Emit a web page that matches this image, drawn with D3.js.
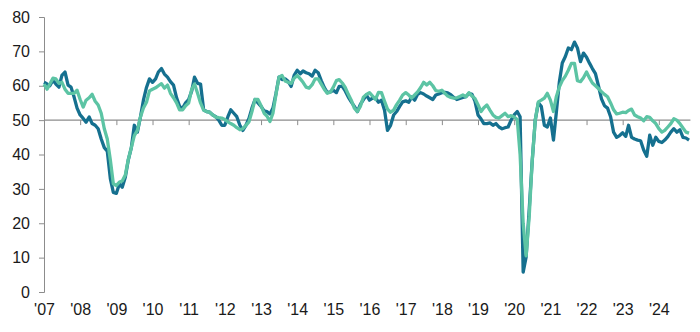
<!DOCTYPE html>
<html>
<head>
<meta charset="utf-8">
<script src="https://cdn.jsdelivr.net/npm/d3@7"></script>
<style>
  html, body { margin: 0; padding: 0; background: #fff; }
  svg { display: block; }
  text { font-family: "Liberation Sans", Arial, sans-serif; }
</style>
</head>
<body>
<div id="chart"></div>
<script>
// Monthly series starting January 2007
const startYear = 2007;
const yearLabels = ["'07","'08","'09","'10","'11","'12","'13","'14","'15","'16","'17","'18","'19","'20","'21","'22","'23","'24"];
const yTicks = [0, 10, 20, 30, 40, 50, 60, 70, 80];

const darkSeries = [
  61, 60.5, 60, 61.6, 60.5, 59.6, 63, 64, 60.2, 59.6, 56.7, 53.5,
  51.5, 50.5, 49.4, 50.9, 49, 48.5, 47.5, 44.5, 42, 41, 33, 29,
  28.7, 31.5, 30.5, 33.4, 38.4, 42, 48.5, 46.5, 50.9, 55.8, 59.5, 62,
  61, 62, 64, 65, 63.4, 62.5, 61.2, 60.2, 56.5, 54, 53.5, 55,
  56, 58.5, 62.5, 60.7, 60.5, 53, 52.5, 52.3, 51.5, 51, 50, 48.5,
  48.5, 51, 53, 52, 51, 48.5, 47, 48.5, 50.5, 53.5, 56, 55,
  54, 52.7, 52.5, 51.8, 53.5, 57.8, 62.5, 61.8, 62, 61.3, 59.8, 63,
  64.5, 63.5, 64.3, 63.8, 63.5, 62.8, 64.5, 63.8, 61.5, 59.5, 58, 58.2,
  58.7, 58, 59.8, 59.8, 58.5, 56.7, 55.3, 54, 52.5, 54.6, 56, 57.3,
  55.8, 56.4, 56.5, 55.2, 55.8, 52.9, 47, 48.5, 51.5, 52.5, 54, 55.3,
  55.6, 55.2, 56.7, 55.8, 57.5, 58, 57.6, 57, 56.5, 56, 57.3, 57.6,
  58, 58.1, 57.9, 57.4, 56.6, 56, 56.3, 56.6, 56.8, 57.8, 57.5, 55.5,
  51.5, 50.3, 49, 49, 49.2, 48.5, 49, 48, 47.5, 47.8, 48, 50,
  51.5, 52.5, 51, 5.8, 10.2, 24, 38, 50, 55, 54, 48.5, 48,
  50.6, 44.2, 52, 61, 66.6, 68.5, 71, 70.5, 72.7, 71, 67, 69.5,
  68.3, 66.5, 65, 63.5, 60, 56.2, 54.2, 53.5, 51, 46.5, 45, 45.5,
  46.3, 45.3, 48.5, 45, 44.5, 44.2, 44, 41.3, 39.5, 45.6, 42.7, 45,
  43.8, 43.5, 44.2, 45.2, 46.5, 47.5, 46.5, 47.2, 45, 44.8, 44.2
];

const lightSeries = [
  60.5, 59, 60.5, 62.2, 62, 60.7, 61, 59, 57.8, 57.8, 57.8, 58.7,
  56, 53.8, 55.8, 56.5, 57.5, 55.5, 54.4, 52, 47.5, 44.5, 38.4, 31.5,
  31, 32, 32.3, 34, 38.5, 42, 45.5, 47, 50.9, 53.5, 55.2, 58.5,
  59, 59.4, 60, 60.6, 59.3, 60.2, 57.8, 56.5, 55, 53, 53, 54.2,
  55, 59, 60.5, 57.8, 55, 52.9, 52.5, 52.3, 51.5, 50.9, 50.7, 50.6,
  50.2, 49.5, 49, 48.5, 47.8, 47.2, 47.5, 48.5, 49.5, 52.5, 56, 56,
  54.2, 52, 51.2, 49.6, 52, 57.5, 62.5, 63, 61.4, 61, 60.7, 62.2,
  63, 62, 61, 59.6, 59.3, 60.3, 62, 62, 60.5, 59, 57.8, 58.1,
  59.6, 61.5, 61.8, 60.8, 59.5, 57.5, 55.8, 53.5, 52.5, 54, 56.7, 57.5,
  58, 57, 56, 58.1, 58, 55.5, 53.2, 52.3, 52.9, 54.5, 55.8, 57.3,
  58, 57.3, 56.4, 57.3, 58.2, 59.5, 61, 60.2, 61, 60, 58.6, 58.4,
  58.7, 57.8, 57, 56.6, 56.4, 56.5, 56.9, 57.3, 56.8, 58, 57, 56.3,
  54.5, 52.5, 53.6, 54.4, 52.9, 51.5, 50.8, 50.6, 51.3, 52, 51, 51.3,
  50.9, 50.2, 40, 20, 10.5, 22, 38, 50, 55.3, 55.8, 56.4, 57.8,
  55.8, 52.5, 56.7, 59.6, 61.5, 62.8, 64.5, 66.5, 66.5, 61.5, 61.2, 62.3,
  64, 62.2, 60.8, 60, 59.2, 58.3, 57.5, 56.8, 55, 53, 51.8, 52,
  52.3, 52.2, 52.8, 53.2, 51.5, 51, 50.6, 49.8, 51, 50.8, 49.8, 49,
  47.5, 46.5, 47, 48, 49, 50.4, 50, 49, 47.7, 46.5, 46.2
];

const width = 700, height = 332;

const svg = d3.select("#chart").append("svg")
  .attr("width", width).attr("height", height);

const toDate = i => new Date(startYear, i, 1);

const x = d3.scaleTime()
  .domain([new Date(2007, 0, 1), new Date(2024, 11, 1)])
  .range([44, 692]);

const y = d3.scaleLinear().domain([0, 80]).range([292, 17]);

const axisColor = "#8c8c8c";

// Y axis
const yAxis = svg.append("g")
  .attr("transform", `translate(${x(new Date(2007,0,1))},0)`)
  .call(d3.axisLeft(y).tickValues(yTicks).tickSize(5).tickPadding(9));
yAxis.select(".domain").attr("stroke", axisColor).attr("stroke-width", 1);
yAxis.selectAll(".tick line").attr("stroke", axisColor);
yAxis.selectAll(".tick text").attr("fill", "#1a1a1a").style("font-size", "16px");

// X axis crossing at 50 (ticks only)
const yearDates = yearLabels.map((_, i) => new Date(startYear + i, 0, 1));
const xAxisG = svg.append("g")
  .attr("transform", `translate(0,${y(50)})`)
  .call(d3.axisBottom(x).tickValues(yearDates).tickSize(5).tickSizeOuter(0).tickFormat(""));
xAxisG.select(".domain").attr("stroke", axisColor).attr("stroke-width", 1.2)
  .attr("d", `M${x(new Date(2007,0,1))},0H${x(new Date(2024,10,15))}`);
xAxisG.selectAll(".tick line").attr("stroke", axisColor);
xAxisG.selectAll(".tick").filter((d, i) => i === 0).remove();

// X labels at bottom
const xLab = svg.append("g")
  .attr("transform", `translate(0,${y(0)})`)
  .call(d3.axisBottom(x).tickValues(yearDates).tickSize(0).tickPadding(12)
    .tickFormat((d, i) => yearLabels[i]));
xLab.select(".domain").remove();
xLab.selectAll(".tick text").attr("fill", "#1a1a1a").style("font-size", "16px");

const line = d3.line()
  .x((d, i) => x(toDate(i)))
  .y(d => y(d));

svg.append("path").datum(darkSeries)
  .attr("fill", "none").attr("stroke", "#15708f")
  .attr("stroke-width", 3.3).attr("stroke-linejoin", "round")
  .attr("d", line);

svg.append("path").datum(lightSeries)
  .attr("fill", "none").attr("stroke", "#5cc4a4")
  .attr("stroke-width", 3.3).attr("stroke-linejoin", "round")
  .attr("d", line);
</script>
</body>
</html>
